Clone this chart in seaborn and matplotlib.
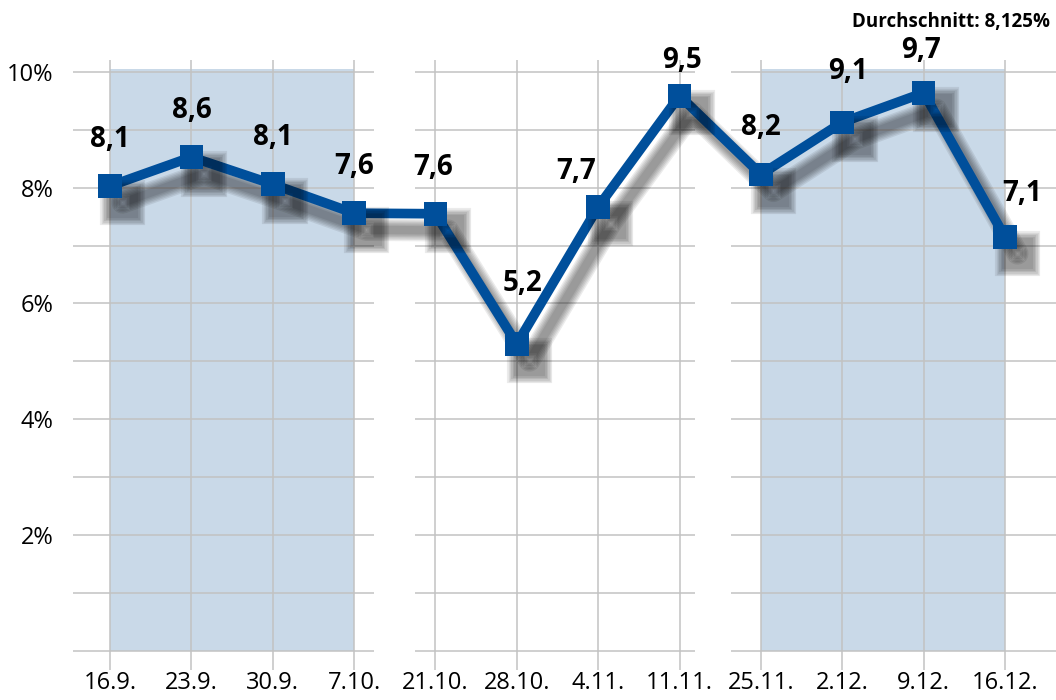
import matplotlib
matplotlib.use('Agg')
import matplotlib.pyplot as plt
import matplotlib.patheffects as pe
import numpy as np
import pandas as pd
import seaborn as sns

# data
dates = ['16.9.', '23.9.', '30.9.', '7.10.', '21.10.', '28.10.',
         '4.11.', '11.11.', '25.11.', '2.12.', '9.12.', '16.12.']
values = [8.03, 8.53, 8.06, 7.56, 7.55, 5.30, 7.67, 9.59, 8.23, 9.13, 9.64, 7.15]
value_labels = ['8,1', '8,6', '8,1', '7,6', '7,6', '5,2',
                '7,7', '9,5', '8,2', '9,1', '9,7', '7,1']
average_text = 'Durchschnitt: 8,125%'
yticks = [2, 4, 6, 8, 10]
ytick_labels = ['2%', '4%', '6%', '8%', '10%']
shaded = [(0, 3), (8, 11)]

blue = '#004f9b'
shade = '#c9d9e8'
grid = '#c2c2c2'

sns.set_style('white')
plt.rcParams['font.family'] = ['Open Sans', 'DejaVu Sans']

fig = plt.figure(figsize=(10.56, 7), dpi=100)
# axes box in pixels: left 73, right 1056, top 60, bottom 670
ax = fig.add_axes([73 / 1056, 30 / 700, 1 - 73 / 1056, 610 / 700])
ax.set_xlim(-0.455, 11.627)
ax.set_ylim(-0.333, 10.207)

df = pd.DataFrame({'pos': np.arange(len(dates)), 'val': values})

# shaded blocks
for a, b in shaded:
    ax.fill_between([a, b], 0, 10.05, color=shade, lw=0, zorder=0)

# vertical grid lines at each date
for i in range(len(dates)):
    ax.axvline(i, color=grid, lw=1.1, zorder=1)

# horizontal grid lines, broken between the groups
segments = [(-0.455, 3.25), (3.75, 7.19), (7.63, 11.627)]
for y in range(0, 11):
    for x0, x1 in segments:
        ax.hlines(y, x0, x1, color=grid, lw=1.1, zorder=1)

# soft shadow: stacked offset shadows of shrinking width
shadow = []
for lw_add in [10, 8, 6, 4, 2, 0]:
    shadow.append(pe.SimpleLineShadow(offset=(9, -12), shadow_color='black',
                                      alpha=0.08, linewidth=6 + lw_add))
shadow.append(pe.Normal())

sns.lineplot(data=df, x='pos', y='val', ax=ax, color=blue, lw=7,
             marker='s', markersize=17, markeredgewidth=0,
             zorder=5, path_effects=shadow)

# value labels (offsets in points)
offsets = [(0, 23), (0, 23), (0, 23), (0, 23), (-2, 23), (4, 33),
           (-16, 15), (2, 15), (0, 23), (4, 26), (-2, 20), (12, 21)]
for i, (v, t) in enumerate(zip(values, value_labels)):
    ax.annotate(t, (i, v), xytext=offsets[i], textcoords='offset points',
                ha='center', va='bottom', fontsize=20, fontweight='bold',
                color='black', zorder=6)

ax.set_xticks(range(len(dates)), dates)
ax.set_yticks(yticks, ytick_labels)
ax.tick_params(axis='both', length=0, labelsize=17, colors='black')
ax.tick_params(axis='x', pad=1)
ax.tick_params(axis='y', pad=14)
ax.set_xlabel('')
ax.set_ylabel('')
for s in ax.spines.values():
    s.set_visible(False)

fig.text(1050 / 1056, 1 - 22 / 700, average_text, ha='right', va='center',
         fontsize=13.5, fontweight='bold', color='black')

fig.savefig('out.png', dpi=100)
